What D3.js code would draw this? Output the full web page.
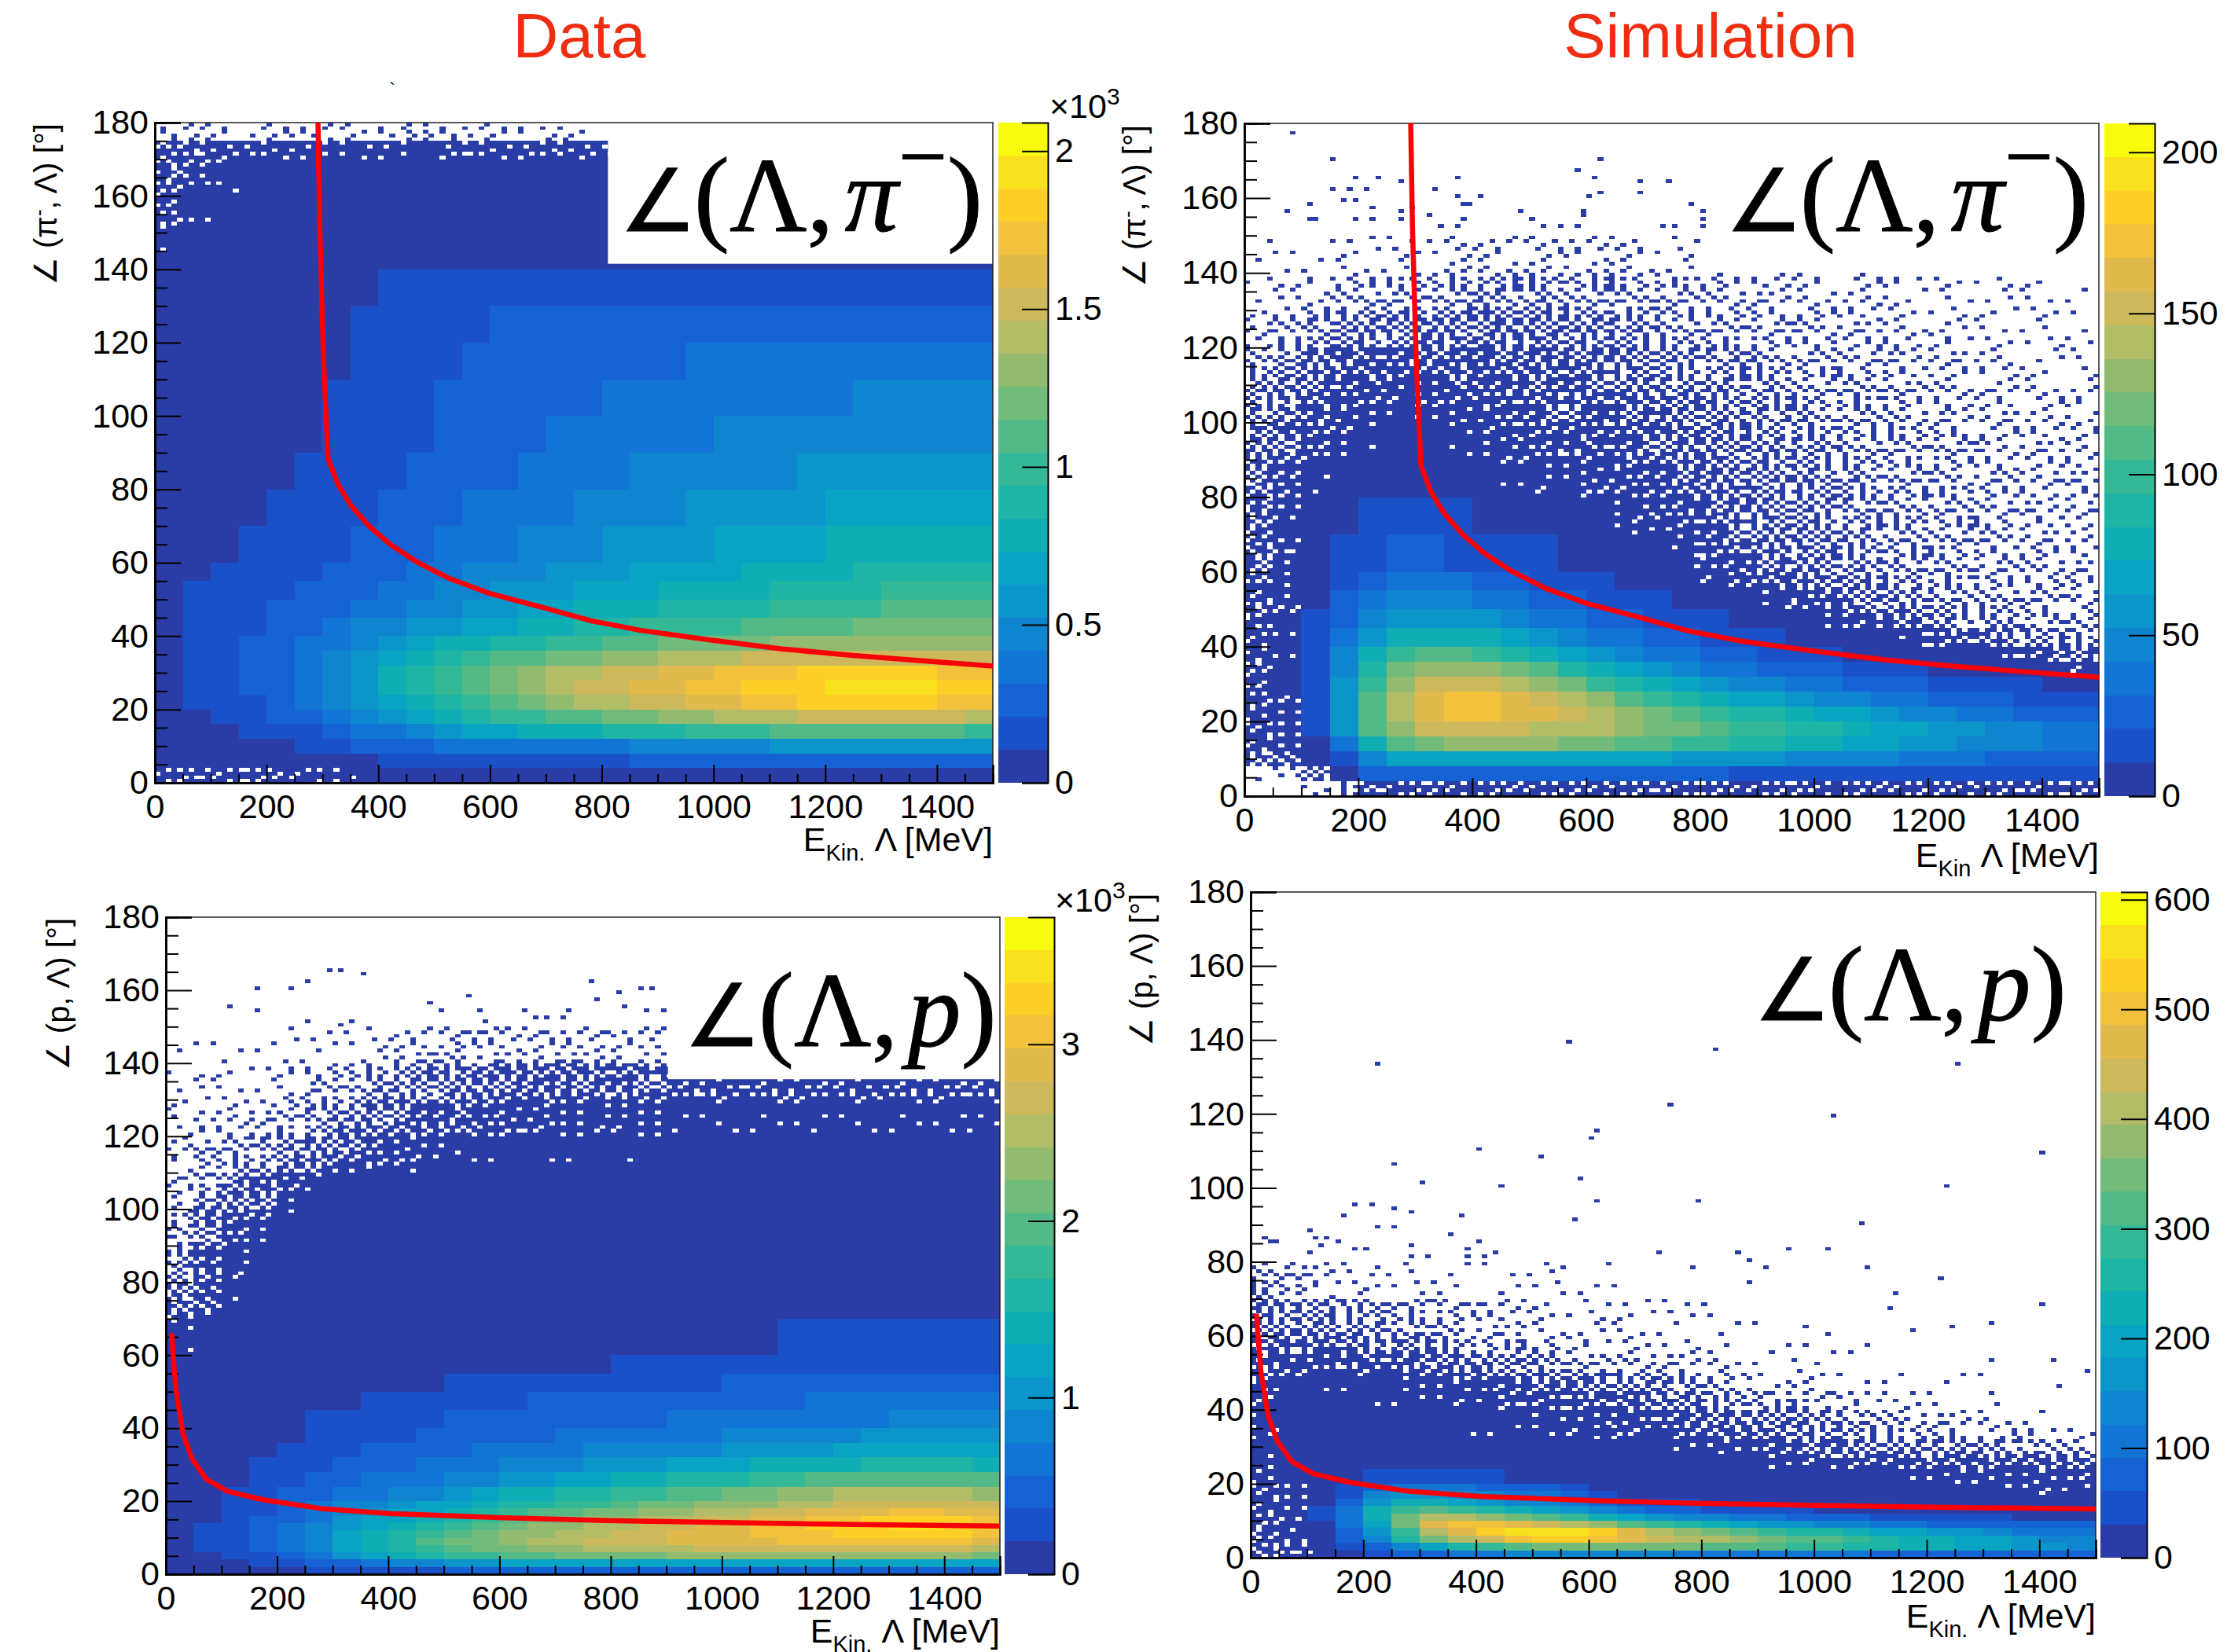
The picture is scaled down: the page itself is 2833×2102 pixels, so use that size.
<!DOCTYPE html>
<html><head><meta charset="utf-8">
<script src="https://cdn.jsdelivr.net/npm/d3@7/dist/d3.min.js"></script>
<style>html,body{margin:0;background:#fff}svg{display:block}text{font-family:"Liberation Sans",Arial,sans-serif}</style>
</head><body><div id="chart"></div>
<script>
// Colour bands of the palette (20 contours, as on the colour bars)
const birdBands=["#2a3ca5","#1a50c8","#1562d4","#1275d6","#0f85d0","#0c95ca","#09a3c3","#10aeb4","#1fb5a5","#35b896","#53ba87","#73bb7b","#93bb70","#b3bc66","#cdb95c","#e1ba4e","#f2c23c","#fdcf27","#fae11d","#f9fb0e"];
const energyBins=[0,50,100,150,200,250,300,350,400,450,500,550,600,650,700,750,800,850,900,950,1000,1050,1100,1150,1200,1250,1300,1350,1400,1450,1500];
const xTicksMajor=[0,200,400,600,800,1000,1200,1400];
const yTicksMajor=[0,20,40,60,80,100,120,140,160,180];

// Cell values: 1..20 = colour band; 0..1 = share of occupied fine bins in a sparse area
const angleBinsA=[0,4,8,12,16,20,24,28,32,36,40,45,50,55,60,70,80,90,100,110,120,130,140,150,160,170,175,180];
const bandsA=[
[.8,.75,.8,.8,.8,.85,.9,.95,1,1,1,1,1,1,1,1,1,1,1,1,1,1,1,1,1,1,1,1,1,1],
[1,1,1,1,1,1,1,1,2,2,2,2,2,2,2,2,2,3,3,3,3,3,3,3,3,3,3,3,3,3],
[1,1,1,1,1,2,2,3,3,3,4,4,4,4,4,4,4,5,5,5,5,5,6,6,6,6,6,6,6,6],
[1,1,1,2,2,2,3,4,4,5,6,7,7,8,8,8,9,9,9,10,10,10,11,11,11,11,11,11,11,10],
[1,1,2,2,3,3,4,5,6,7,8,9,10,10,11,11,12,12,13,13,14,14,14,15,15,15,15,15,15,14],
[1,2,2,2,3,4,5,6,7,8,9,10,11,12,13,14,14,15,15,16,16,17,17,18,18,18,18,18,17,17],
[1,2,2,3,3,4,5,6,8,9,10,11,12,13,14,15,15,16,16,17,17,18,18,18,19,19,19,19,18,18],
[1,2,2,3,3,4,5,6,8,9,10,11,12,13,14,14,15,15,16,16,17,17,17,18,18,18,18,18,17,17],
[1,2,2,3,3,4,5,6,7,8,9,10,11,11,12,12,13,13,14,14,14,15,15,15,15,15,15,15,15,15],
[1,2,2,3,3,4,4,5,6,7,8,8,9,9,10,10,11,11,12,12,12,12,13,13,13,13,13,13,13,13],
[1,2,2,2,3,3,4,5,5,6,6,7,7,8,8,9,9,10,10,10,10,11,11,11,11,12,12,12,12,12],
[1,2,2,2,3,3,3,4,4,5,5,6,6,7,7,8,8,8,9,9,9,9,10,10,10,10,11,11,11,11],
[1,2,2,2,2,3,3,3,4,4,5,5,6,6,6,7,7,7,8,8,8,8,9,9,9,9,10,10,10,10],
[1,1,2,2,2,2,3,3,3,4,4,5,5,5,6,6,6,7,7,7,7,8,8,8,8,9,9,9,9,9],
[1,1,1,2,2,2,2,3,3,3,4,4,4,5,5,5,6,6,6,6,7,7,7,7,8,8,8,8,8,8],
[1,1,1,1,2,2,2,2,3,3,3,4,4,4,4,5,5,5,5,6,6,6,6,6,7,7,7,7,7,7],
[1,1,1,1,1,2,2,2,2,3,3,3,3,4,4,4,4,5,5,5,5,5,5,6,6,6,6,6,6,6],
[1,1,1,1,1,1,2,2,2,2,3,3,3,3,4,4,4,4,4,4,5,5,5,5,5,5,5,5,5,5],
[1,1,1,1,1,1,2,2,2,2,3,3,3,3,3,3,4,4,4,4,4,4,4,4,4,5,5,5,5,5],
[1,1,1,1,1,1,1,2,2,2,2,3,3,3,3,3,3,3,3,4,4,4,4,4,4,4,4,4,4,4],
[1,1,1,1,1,1,1,2,2,2,2,2,3,3,3,3,3,3,3,3,3,3,3,3,3,3,3,3,3,3],
[1,1,1,1,1,1,1,1,2,2,2,2,2,2,2,2,2,2,2,2,2,2,2,2,2,2,2,2,2,2],
[.97,1,1,1,1,1,1,1,1,1,1,1,1,1,1,1,1,1,1,1,1,1,1,1,1,1,1,1,1,1],
[.8,.95,1,1,1,1,1,1,1,1,1,1,1,1,1,1,1,1,1,1,1,1,1,1,1,1,1,1,1,1],
[.75,.85,.95,1,1,1,1,1,1,1,1,1,1,1,1,1,1,1,1,1,1,1,1,1,1,1,1,1,1,1],
[.75,.8,.85,.85,.85,.9,.85,.9,.9,.9,.85,.85,.85,.85,.85,.85,.8,0,0,0,0,0,0,0,0,0,0,0,0,0],
[.25,.2,.15,.2,.15,.2,.15,.1,.2,.25,.25,.2,.15,.15,.1,.03,0,0,0,0,0,0,0,0,0,0,0,0,0,0]];

const angleBinsB=[0,4,8,12,16,20,24,28,32,36,40,45,50,55,60,70,80,90,100,110,120,130,140,150];
const bandsB=[
[0,.05,.1,.4,.7,.8,.8,.8,.8,.8,.8,.8,.8,.8,.8,.8,.8,.8,.8,.8,.8,.8,.8,.8,.8,.8,.8,.8,.8,.8],
[.05,.1,.5,1,3,3,3,3,3,3,3,3,3,3,3,3,3,2,2,2,2,2,2,2,2,2,2,2,2,2],
[.6,.7,1,2,5,7,7,7,7,7,7,7,7,7,7,6,6,6,6,5,5,5,5,4,4,4,3,3,3,3],
[.8,.8,1,4,8,11,12,13,13,13,13,12,12,11,11,10,10,9,9,8,8,7,7,6,6,5,5,5,4,4],
[.8,.9,2,6,11,13,15,15,15,15,14,14,14,13,12,12,11,10,10,9,9,8,7,7,6,6,5,5,4,4],
[.8,.9,2,6,11,14,16,17,17,16,16,15,14,13,12,11,10,9,9,8,7,7,6,5,5,4,4,3,3,3],
[.8,.9,2,6,11,14,16,17,17,16,15,14,13,11,10,9,8,7,7,6,5,5,4,4,3,3,3,2,2,2],
[.8,.9,2,6,10,13,15,15,15,14,13,12,10,9,8,7,6,5,5,4,4,3,3,3,2,2,2,2,1,1],
[.8,.9,2,5,9,12,13,13,13,12,11,9,8,7,6,5,4,4,3,3,3,2,2,2,1,1,1,1,1,.9],
[.8,.9,2,5,8,10,11,11,10,9,8,7,6,5,4,4,3,3,2,2,2,1,1,1,1,1,.9,.8,.7,.6],
[.8,.95,2,4,6,8,8,8,8,7,6,5,4,4,3,3,2,2,2,1,1,1,1,.9,.8,.7,.6,.5,.4,.4],
[.8,.95,2,3,5,6,6,6,6,5,4,4,3,3,2,2,2,1,1,1,.9,.8,.7,.6,.5,.4,.4,.3,.3,.3],
[.7,.9,1,3,4,5,5,5,4,4,3,3,2,2,2,1,1,1,.9,.8,.7,.6,.5,.45,.4,.35,.3,.3,.25,.25],
[.7,.9,1,2,3,4,4,4,3,3,2,2,2,1,1,1,.9,.85,.7,.6,.55,.5,.4,.4,.35,.3,.3,.25,.25,.25],
[.7,.85,1,2,2,3,3,2,2,2,2,1,1,1,1,.9,.8,.7,.6,.55,.5,.45,.4,.35,.3,.3,.25,.25,.2,.2],
[.65,.9,1,1,2,2,2,2,1,1,1,1,1,.9,.85,.8,.7,.6,.55,.5,.45,.4,.35,.35,.3,.3,.25,.2,.2,.2],
[.6,.8,.95,1,1,1,1,1,1,.95,.9,.9,.85,.8,.75,.7,.6,.55,.5,.5,.45,.4,.35,.3,.3,.25,.25,.2,.2,.2],
[.55,.65,.8,.9,.95,1,1,.95,.9,.85,.8,.8,.75,.7,.65,.6,.55,.5,.5,.45,.4,.35,.35,.3,.3,.25,.2,.2,.2,.15],
[.45,.55,.7,.8,.85,.9,.85,.85,.8,.75,.7,.7,.7,.65,.6,.55,.5,.45,.4,.4,.35,.35,.3,.25,.25,.2,.2,.15,.15,.15],
[.35,.45,.6,.7,.75,.8,.75,.7,.75,.7,.65,.65,.6,.55,.5,.45,.4,.4,.35,.3,.3,.25,.25,.2,.2,.15,.15,.1,.1,.1],
[.2,.3,.4,.5,.5,.5,.55,.55,.6,.55,.55,.5,.5,.45,.4,.35,.3,.3,.25,.25,.25,.2,.2,.15,.15,.1,.1,.1,.1,.05],
[.1,.1,.15,.25,.3,.3,.35,.35,.4,.4,.4,.35,.35,.3,.3,.3,.25,.2,.2,.2,.15,.15,.15,.1,.1,.1,.1,.1,.05,.05],
[.05,.05,.05,.1,.1,.1,.1,.15,.15,.15,.15,.15,.15,.15,.1,.1,0,0,0,0,0,0,0,0,0,0,0,0,0,0]];
const outliersB=[[86,177],[153,170],[624,170],[581,167],[611,165],[693,164],[745,164],[693,161],[624,161],[608,160],[191,165],[235,165],[272,164],[372,165],[153,162],[188,162],[216,162],[333,162],[378,160],[415,160],[179,159],[198,159],[223,157],[117,158],[384,158],[397,158],[297,157],[484,156],[590,156],[77,156],[789,158],[805,156],[596,155],[272,156],[328,155],[117,154],[129,154],[223,154],[195,154],[384,154],[805,154],[733,152],[755,152],[509,154],[372,152],[341,152],[279,154],[558,152],[527,152],[583,152],[807,152]];

const angleBinsC=[0,2,4,6,8,10,12,14,16,18,20,24,28,32,36,40,45,50,55,60,70,80,90,100,110,120,130,140,150];
const bandsC=[
[1,1,1,1,1,2,2,2,2,2,3,3,3,3,3,3,3,3,3,3,3,3,3,3,3,3,3,3,3,3],
[1,1,1,2,2,3,3,4,5,5,6,6,7,7,7,7,7,7,7,7,7,7,7,7,7,7,7,7,7,7],
[1,1,2,2,3,4,6,7,8,9,10,10,11,11,12,12,12,12,13,13,13,13,13,13,13,13,13,13,13,12],
[1,2,2,3,4,5,7,8,9,10,11,12,12,13,13,14,14,14,14,15,15,15,15,15,15,15,15,15,15,14],
[1,2,2,3,4,5,7,8,9,11,12,12,13,14,14,15,15,15,16,16,16,16,17,17,17,17,17,17,17,16],
[1,2,2,3,4,5,7,8,9,10,11,12,13,13,14,14,15,15,16,16,16,17,17,17,18,18,18,18,18,17],
[1,2,2,3,4,5,6,7,8,9,10,11,12,13,13,14,14,15,15,16,16,17,17,18,18,18,19,19,18,18],
[1,1,2,3,3,4,6,7,7,8,9,10,11,12,12,13,13,14,14,15,15,16,16,17,17,18,18,18,18,17],
[1,1,2,2,3,4,5,6,7,7,8,9,10,11,11,12,12,13,13,14,14,15,15,16,16,16,17,17,16,16],
[1,1,2,2,3,4,5,5,6,7,7,8,9,9,10,10,11,12,12,13,13,13,14,14,15,15,15,15,15,15],
[1,1,2,2,3,3,4,4,5,5,6,7,8,8,9,9,10,10,11,11,12,12,13,13,14,14,14,14,14,13],
[1,1,1,2,2,3,3,4,4,4,5,5,6,6,7,7,8,8,9,9,9,10,10,11,11,11,11,11,11,11],
[1,1,1,2,2,2,3,3,3,4,4,4,5,5,5,6,6,6,7,7,7,8,8,8,8,9,9,9,9,8],
[1,1,1,1,2,2,2,3,3,3,3,4,4,4,4,5,5,5,5,5,6,6,6,6,7,7,7,7,7,7],
[1,1,1,1,1,2,2,2,2,3,3,3,3,3,4,4,4,4,4,4,5,5,5,5,5,6,6,6,6,6],
[1,1,1,1,1,2,2,2,2,2,3,3,3,3,3,3,3,3,4,4,4,4,4,4,4,4,5,5,5,5],
[1,1,1,1,1,1,1,2,2,2,2,2,2,3,3,3,3,3,3,3,3,3,3,4,4,4,4,4,4,4],
[1,1,1,1,1,1,1,1,1,1,2,2,2,2,2,2,2,2,2,2,3,3,3,3,3,3,3,3,3,3],
[1,1,1,1,1,1,1,1,1,1,1,1,1,1,1,1,2,2,2,2,2,2,2,2,2,2,2,2,2,2],
[.95,1,1,1,1,1,1,1,1,1,1,1,1,1,1,1,1,1,1,1,1,1,2,2,2,2,2,2,2,2],
[.6,.75,.95,1,1,1,1,1,1,1,1,1,1,1,1,1,1,1,1,1,1,1,1,1,1,1,1,1,1,1],
[.45,.7,.9,1,1,1,1,1,1,1,1,1,1,1,1,1,1,1,1,1,1,1,1,1,1,1,1,1,1,1],
[.3,.55,.8,.9,.97,1,1,1,1,1,1,1,1,1,1,1,1,1,1,1,1,1,1,1,1,1,1,1,1,1],
[.2,.4,.6,.7,.85,.95,1,1,1,1,1,1,1,1,1,1,1,1,1,1,1,1,1,1,1,1,1,1,1,1],
[.15,.3,.35,.4,.5,.6,.7,.8,.85,.9,.95,.97,.98,.98,.98,.99,.99,1,1,1,1,1,1,1,1,1,1,1,1,1],
[.1,.15,.2,.2,.3,.4,.5,.6,.65,.7,.75,.8,.85,.85,.9,.9,.9,.9,.95,.95,.95,.95,.95,.95,.95,.95,.95,.95,.95,.95],
[.05,.1,.1,.1,.15,.25,.3,.4,.45,.5,.55,.6,.65,.65,.65,.65,.65,.65,.8,.8,.8,.8,.8,.8,.8,.8,.8,.8,.8,.8],
[.02,.03,.04,.03,.08,.07,.1,.1,.15,.2,.25,.25,.2,.2,.2,.2,.15,.2,0,0,0,0,0,0,0,0,0,0,0,0]];
const outliersC=[[294,165],[310,165],[354,164],[160,160],[226,160],[250,162],[760,162],[813,159],[857,160],[879,160],[774,157],[544,158],[476,156],[498,154],[566,154],[118,155],[169,154],[828,155],[860,154],[890,154],[649,154],[725,154],[719,152],[686,152],[662,152],[252,151],[331,151],[310,150],[578,151]];

const angleBinsD=[0,2,4,6,8,10,12,14,16,18,20,24,28,32,36,40,45,50,55,60,70,80];
const bandsD=[
[.7,.7,.9,1,2,3,3,4,4,5,5,5,5,5,5,4,4,4,4,4,4,4,3,3,3,3,3,3,3,3],
[.7,.8,1,2,3,5,7,9,10,11,12,12,12,12,12,12,11,11,11,10,10,9,9,8,8,7,7,6,6,5],
[.7,.8,1,3,5,9,12,14,15,17,18,18,17,16,15,14,14,13,12,11,11,10,9,8,8,7,7,6,5,5],
[.7,.8,1,3,6,10,14,16,18,19,19,19,18,16,14,13,12,11,10,9,9,8,7,7,6,6,5,4,4,4],
[.7,.9,1,4,7,12,16,17,17,16,15,14,13,11,10,9,8,7,6,6,5,5,4,4,3,3,3,3,3,3],
[.8,.9,2,4,8,12,14,14,13,12,11,10,8,7,6,5,5,4,4,3,3,3,2,2,2,2,2,1,1,1],
[.8,.9,2,4,8,10,11,10,9,8,7,6,5,4,3,3,2,2,2,2,1,1,1,1,1,1,1,1,1,1],
[.8,.9,1,3,6,8,8,7,6,5,5,4,3,2,2,2,1,1,1,1,1,1,1,1,1,1,1,1,1,.98],
[.8,.9,1,2,5,6,6,5,5,4,4,3,2,1,1,1,1,1,1,1,1,1,1,1,1,1,1,.98,.95,.95],
[.8,.9,1,2,3,4,4,4,3,3,3,2,1,1,1,1,1,1,1,1,1,1,1,1,1,.97,.95,.9,.9,.9],
[.85,1,1,1,2,2,2,2,2,1,1,1,1,1,1,1,1,1,1,1,1,.98,.97,.95,.9,.85,.85,.85,.8,.8],
[.9,1,1,1,1,1,1,1,1,1,1,1,1,1,1,1,1,.95,.9,.9,.85,.8,.8,.75,.7,.7,.7,.7,.65,.6],
[1,1,1,1,1,1,1,1,1,1,1,1,.97,.95,.95,.9,.85,.8,.75,.7,.65,.6,.55,.5,.45,.45,.4,.4,.35,.3],
[.9,1,1,1,1,1,1,.98,.97,.97,.95,.9,.9,.85,.85,.8,.75,.65,.6,.55,.5,.4,.35,.3,.3,.2,.2,.15,.1,.1],
[.9,1,1,1,1,.97,.97,.97,.97,.95,.9,.9,.85,.8,.8,.75,.7,.6,.55,.5,.4,.35,.3,.25,.2,.2,.15,.1,.05,.03],
[.85,1,1,1,.97,.95,.95,.9,.9,.85,.8,.8,.75,.7,.65,.55,.45,.35,.3,.3,.2,.15,.15,.1,.1,.05,.05,.03,0,0],
[.8,.95,.95,.95,.9,.9,.85,.8,.8,.7,.65,.6,.6,.5,.45,.4,.3,.2,.15,.15,.1,.1,.05,.05,.03,.03,0,0,.02,0],
[.7,.85,.85,.8,.75,.7,.7,.6,.5,.45,.4,.35,.3,.25,.2,.2,.15,.1,.05,.1,.05,.05,.03,.03,.03,0,0,0,0,0],
[.6,.7,.7,.6,.55,.55,.45,.4,.3,.3,.25,.2,.15,.15,.1,.1,.05,.05,.05,.05,.03,.03,0,0,0,0,0,0,0,0],
[.55,.5,.5,.45,.4,.35,.3,.25,.2,.15,.12,.1,.1,.1,.08,.05,.05,.03,0,0,0,0,0,0,0,0,0,0,0,0],
[.35,.3,.15,.1,.12,.1,.08,.05,.05,.05,.08,.03,.03,0,0,0,0,0,0,0,0,0,0,0,0,0,0,0,0,0]];
const outliersD=[[560,139],[821,137],[229,133],[1255,133],[746,122],[1030,119],[619,115],[604,113],[401,110],[513,108],[1405,109],[258,106],[303,101],[445,100],[588,102],[1232,100],[619,96],[790,96],[189,95],[214,95],[250,94],[289,93],[370,92],[168,92],[573,91],[1083,90],[221,89],[250,89],[100,88],[355,87],[25,86],[116,86],[131,86],[38,85],[48,85],[401,85],[123,84],[153,85],[189,83],[204,83],[289,84],[385,83],[385,81],[430,82],[415,81],[280,81],[311,81],[100,82],[723,82],[865,82],[880,80],[954,83],[1022,83],[1090,78],[783,78],[910,78],[553,78],[1226,75],[880,74],[1142,71],[1135,67],[1405,68],[1315,63],[1247,62],[1173,61],[986,62],[1022,60],[1315,53],[1421,53],[1487,50],[1433,46]];

// Red cut curves
const cutPionE=[292,295,302,310,328,351,384,422,469,529,600,694,780,868,996,1123,1250,1378,1500];
const cutPionAngle=[180,152.6,114.7,88.4,81.3,75.6,69.9,64.9,60.2,55.6,51.6,47.8,44.2,41.6,38.9,36.5,34.7,33.2,31.8];
const cutProtonE=[10,18,31,47,73,111,175,278,406,598,790,982,1238,1500];
const cutProtonAngle=[66,50.6,38.4,31.6,26,22.7,20.4,18,16.6,15.5,14.7,14.2,13.6,13.2];

// Fixed threshold matrix used to render the sparse-area shares at the native bin size
const halftone=[[37,5,52,18,60,11,44,27],[14,49,29,1,35,56,21,63],[58,24,41,9,47,16,32,3],[7,34,55,19,62,26,51,39],[45,12,2,43,30,8,57,17],[28,61,22,53,13,38,4,48],[50,10,36,6,59,23,42,31],[20,46,15,33,40,0,25,54]];
const binE=10, binAngle=1;

const panels=[
 {bands:bandsA,angles:angleBinsA,outliers:[],cutE:cutPionE,cutA:cutPionAngle,l:197,r:1263,t:156,b:996,barL:1270,barR:1333,zMax:2.09,zTicks:[0,.5,1,1.5,2],exp:true,expX:1335,expY:150,
  yTitle:["(π","-",", Λ) [°]"],yTitleX:72,yTitleTop:157,sub:"Kin.",xTitleY:1083,box:[811,141.5],math:["π","−"],mathX:788,mathY:294},
 {bands:bandsB,angles:angleBinsB,outliers:outliersB,cutE:cutPionE,cutA:cutPionAngle,l:1583,r:2670,t:157,b:1013,barL:2677,barR:2741,zMax:209,zTicks:[0,50,100,150,200],exp:false,
  yTitle:["(π","-",", Λ) [°]"],yTitleX:1457,yTitleTop:159,sub:"Kin",xTitleY:1103,box:null,math:["π","−"],mathX:2195,mathY:294},
 {bands:bandsC,angles:angleBinsC,outliers:outliersC,cutE:cutProtonE,cutA:cutProtonAngle,l:211,r:1272,t:1167,b:2003,barL:1278,barR:1341,zMax:3.72,zTicks:[0,1,2,3],exp:true,expX:1342,expY:1160,
  yTitle:["(p",null,", Λ) [°]"],yTitleX:88,yTitleTop:1168,sub:"Kin.",xTitleY:2090,box:[903,135.6],math:["p",null],mathX:870,mathY:1331},
 {bands:bandsD,angles:angleBinsD,outliers:outliersD,cutE:cutProtonE,cutA:cutProtonAngle,l:1591,r:2666,t:1135,b:1982,barL:2672,barR:2731,zMax:607,zTicks:[0,100,200,300,400,500,600],exp:false,
  yTitle:["(p",null,", Λ) [°]"],yTitleX:1466,yTitleTop:1137,sub:"Kin.",xTitleY:2071,box:null,math:["p",null],mathX:2231,mathY:1298}
];

const W=2833,H=2102,tickFont=43;
const svg=d3.select("#chart").append("svg").attr("width",W).attr("height",H).attr("viewBox",[0,0,W,H]);
const bandColor=d3.scaleThreshold().domain(d3.range(2,21)).range(birdBands);

[["Data",737],["Simulation",2176]].forEach(([s,x])=>svg.append("text").attr("x",x).attr("y",73).attr("text-anchor","middle").attr("font-size",80).attr("fill","#ee2d11").text(s));
svg.append("text").attr("x",495).attr("y",122).attr("font-size",24).text("`");

panels.forEach(p=>{
  const g=svg.append("g");
  const x=d3.scaleLinear().domain([0,1500]).range([p.l,p.r]);
  const y=d3.scaleLinear().domain([0,180]).range([p.b,p.t]);
  const heat=g.append("g").attr("shape-rendering","crispEdges");
  p.bands.forEach((row,j)=>row.forEach((v,i)=>{
    const e0=energyBins[i],e1=energyBins[i+1],a0=p.angles[j],a1=p.angles[j+1];
    if(v>=1){
      heat.append("rect").attr("x",x(e0)).attr("y",y(a1)).attr("width",x(e1)-x(e0)).attr("height",y(a0)-y(a1)).attr("fill",bandColor(v));
    }else if(v>0){
      for(let e=e0;e<e1;e+=binE)for(let a=a0;a<a1;a+=binAngle){
        const ti=e/binE,tj=a/binAngle;
        const shift=3*Math.floor(tj/8)+5*Math.floor(ti/8);
        if((halftone[tj%8][(ti+shift)%8]+.5)/64<v)
          heat.append("rect").attr("x",x(e)).attr("y",y(a+binAngle)).attr("width",x(e+binE)-x(e)).attr("height",y(a)-y(a+binAngle)).attr("fill",birdBands[0]);
      }
    }
  }));
  p.outliers.forEach(([e,a])=>{
    const e0=Math.floor(e/binE)*binE;
    heat.append("rect").attr("x",x(e0)).attr("y",y(a+binAngle)).attr("width",x(e0+binE)-x(e0)).attr("height",y(a)-y(a+binAngle)).attr("fill",birdBands[0]);
  });
  if(p.box) g.append("rect").attr("x",x(p.box[0])).attr("y",y(180)).attr("width",x(1500)-x(p.box[0])).attr("height",y(p.box[1])-y(180)).attr("fill","#fff");

  // frame
  g.append("rect").attr("x",p.l).attr("y",p.t).attr("width",p.r-p.l).attr("height",p.b-p.t).attr("fill","none").attr("stroke","#222").attr("stroke-width",1.5);

  // axes
  const styleAxis=a=>{a.select(".domain").attr("stroke","#000").attr("stroke-width",2.5);a.selectAll("line").attr("stroke","#000").attr("stroke-width",2);a.selectAll("text").attr("font-size",tickFont).attr("fill","#000").attr("font-family","Liberation Sans");};
  const xMinor=d3.range(0,1501,50).filter(v=>v%200);
  const yMinor=d3.range(0,181,5).filter(v=>v%20);
  g.append("g").attr("transform",`translate(0,${p.b})`).call(d3.axisBottom(x).tickValues(xMinor).tickSize(-11).tickFormat("")).call(styleAxis);
  g.append("g").attr("transform",`translate(0,${p.b})`).call(d3.axisBottom(x).tickValues(xTicksMajor).tickSize(-23).tickPadding(14).tickFormat(d3.format("d"))).call(styleAxis);
  g.append("g").attr("transform",`translate(${p.l},0)`).call(d3.axisLeft(y).tickValues(yMinor).tickSize(-16).tickFormat("")).call(styleAxis);
  g.append("g").attr("transform",`translate(${p.l},0)`).call(d3.axisLeft(y).tickValues(yTicksMajor).tickSize(-33).tickPadding(8).tickFormat(d3.format("d"))).call(styleAxis);

  // cut curve
  const line=d3.line().x(d=>x(d)).y((d,i)=>y(p.cutA[i]));
  g.append("path").attr("d",line(p.cutE)).attr("fill","none").attr("stroke","#fb0006").attr("stroke-width",6.5).attr("stroke-linejoin","round");

  // colour bar
  const z=d3.scaleLinear().domain([0,p.zMax]).range([p.b,p.t]);
  const barBands=d3.range(20);
  g.append("g").attr("shape-rendering","crispEdges").selectAll("rect").data(barBands).join("rect")
    .attr("x",p.barL).attr("width",p.barR-p.barL)
    .attr("y",d=>z((d+1)*p.zMax/20)).attr("height",d=>z(d*p.zMax/20)-z((d+1)*p.zMax/20))
    .attr("fill",d=>birdBands[d]);
  const fmt=v=>String(v);
  g.append("g").attr("transform",`translate(${p.barR},0)`).call(d3.axisRight(z).tickValues(p.zTicks).tickSize(-33).tickPadding(9).tickFormat(fmt)).call(styleAxis).select(".domain").attr("stroke-width",2);
  if(p.exp){
    g.append("text").attr("x",p.expX).attr("y",p.expY).attr("font-size",tickFont).text("×10")
     .append("tspan").attr("dy",-17).attr("font-size",30).text("3");
  }

  // x title
  const xt=g.append("text").attr("x",p.r).attr("y",p.xTitleY).attr("text-anchor","end").attr("font-size",43);
  xt.append("tspan").text("E");
  xt.append("tspan").attr("dy",12).attr("font-size",29).text(p.sub);
  xt.append("tspan").attr("dy",-12).text(" Λ [MeV]");

  // y title
  const yt=g.append("text").attr("transform",`translate(${p.yTitleX},${p.yTitleTop}) rotate(-90)`).attr("text-anchor","end").attr("font-size",40);
  yt.append("tspan").text("∠ ");
  yt.append("tspan").text(p.yTitle[0]);
  if(p.yTitle[1]){yt.append("tspan").attr("dy",-14).attr("font-size",26).text(p.yTitle[1]);yt.append("tspan").attr("dy",14).text(p.yTitle[2]);}
  else yt.append("tspan").text(p.yTitle[2]);

  // big formula
  const serif="Liberation Serif";
  const mt=g.append("text").attr("x",p.mathX).attr("y",p.mathY).attr("font-size",136).attr("fill","#000").attr("stroke","#000").attr("stroke-width",1);
  mt.append("tspan").attr("font-family","DejaVu Sans").attr("font-size",110).text("∠");
  mt.append("tspan").attr("font-family",serif).attr("dx",-4).text("(Λ,");
  mt.append("tspan").attr("font-family",serif).attr("font-style","italic").attr("dx",p.math[1]?14:12).text(p.math[0]);
  if(p.math[1]){
    mt.append("tspan").attr("font-family",serif).attr("dy",-58).attr("font-size",110).text(p.math[1]);
    mt.append("tspan").attr("font-family",serif).attr("dy",58).text(")");
  } else mt.append("tspan").attr("font-family",serif).text(")");
});
</script></body></html>
